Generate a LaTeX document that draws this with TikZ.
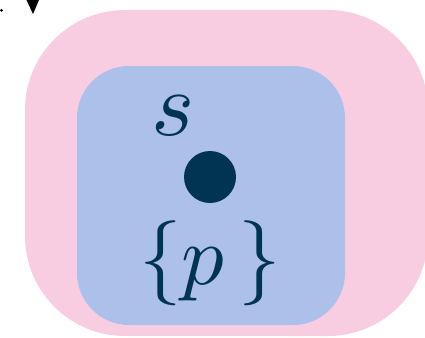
\documentclass[tikz,border=0pt]{standalone}
\usepackage{graphicx}
\usepackage{tikz}
\usetikzlibrary{positioning}
\definecolor{rosepink}{RGB}{248,205,226}
\definecolor{setblue}{RGB}{173,192,233}
\definecolor{deepnavy}{RGB}{1,51,82}
\newcommand{\bigsym}[2][9.2]{\scalebox{#1}{$#2$}}

\begin{document}
\begin{tikzpicture}[x=1pt,y=-1pt]
  \tikzset{bigtext/.style={text=deepnavy,inner sep=0pt}}
  \useasboundingbox (0,0) rectangle (425,337);

  \fill[rosepink,rounded corners=100] (25,10) rectangle (428,336);
  \fill[setblue,rounded corners=52] (77,66) rectangle (345,325);

  % fragments at the top left
  \fill[black] (1.5,10.5) circle (1.5);
  \fill[black] (26.5,0) -- (39,0) -- (33,14) -- cycle;

  \coordinate (P) at (210,177);
  \fill[deepnavy] (P) circle (26);
  \node[bigtext,anchor=base] (s) at (173,135) {\bigsym{s}};
  \node[bigtext,anchor=base] (p) at (210,284) {\bigsym[8.5]{\{p\,\}}};
\end{tikzpicture}
\end{document}
